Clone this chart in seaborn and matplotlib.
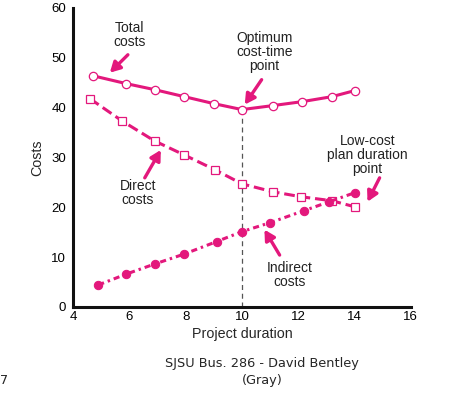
import matplotlib
matplotlib.use("Agg")
import matplotlib.pyplot as plt
import seaborn as sns
import pandas as pd

# values
total_x = [4.7, 5.9, 6.9, 7.95, 9.0, 10.0, 11.1, 12.15, 13.2, 14.0]
total_y = [46.4, 44.8, 43.6, 42.2, 40.8, 39.6, 40.4, 41.2, 42.2, 43.4]

direct_x = [4.6, 5.75, 6.9, 7.95, 9.05, 10.0, 11.1, 12.1, 13.2, 14.0]
direct_y = [41.8, 37.3, 33.3, 30.5, 27.5, 24.7, 23.1, 22.1, 21.3, 20.1]

indirect_x = [4.9, 5.9, 6.9, 7.95, 9.1, 10.0, 11.0, 12.2, 13.1, 14.0]
indirect_y = [4.4, 6.6, 8.6, 10.6, 13.1, 15.1, 16.9, 19.3, 21.1, 22.9]

x_ticks = [4, 6, 8, 10, 12, 14, 16]
y_ticks = [0, 10, 20, 30, 40, 50, 60]

MAGENTA = "#e3187c"

sns.set_style("white")
plt.rcParams["font.family"] = ["Liberation Sans", "DejaVu Sans"]

fig = plt.figure(figsize=(4.56, 3.97), dpi=100)
ax = fig.add_axes([0.160, 0.227, 0.741, 0.753])

df_total = pd.DataFrame({"duration": total_x, "cost": total_y})
df_direct = pd.DataFrame({"duration": direct_x, "cost": direct_y})
df_indirect = pd.DataFrame({"duration": indirect_x, "cost": indirect_y})

# optimum line
ax.vlines(10, 0, 39.6, colors="#555555", linestyles=(0, (4, 3)), linewidth=0.9, zorder=1)

sns.lineplot(data=df_total, x="duration", y="cost", ax=ax, color=MAGENTA,
             linewidth=2.2, marker="o", markersize=6, markerfacecolor="white",
             markeredgecolor=MAGENTA, markeredgewidth=0.9, zorder=3)
sns.lineplot(data=df_direct, x="duration", y="cost", ax=ax, color=MAGENTA,
             linewidth=2.2, linestyle=(0, (3.5, 1.6)), marker="s", markersize=6,
             markerfacecolor="white", markeredgecolor=MAGENTA, markeredgewidth=0.9, zorder=3)
sns.lineplot(data=df_indirect, x="duration", y="cost", ax=ax, color=MAGENTA,
             linewidth=2.2, linestyle=(0, (2, 1.3, 0.8, 1.3)), marker="o", markersize=6,
             markerfacecolor=MAGENTA, markeredgecolor=MAGENTA, zorder=3)

ax.set_xlim(4, 16)
ax.set_ylim(0, 60)
ax.set_xticks(x_ticks)
ax.set_yticks(y_ticks)
ax.tick_params(direction="in", length=4, width=0.8, labelsize=9.5, colors="black", pad=5)
ax.tick_params(axis="x", pad=3)
for s in ["top", "right"]:
    ax.spines[s].set_visible(False)
for s in ["left", "bottom"]:
    ax.spines[s].set_linewidth(2.2)
    ax.spines[s].set_color("#111111")

ax.set_xlabel("Project duration", fontsize=10.3, labelpad=3)
ax.set_ylabel("Costs", fontsize=10.3, labelpad=5)

arrow = dict(arrowstyle="-|>,head_length=0.6,head_width=0.33", color=MAGENTA, lw=2.4,
             shrinkA=0, shrinkB=0)
txt = dict(fontsize=10, ha="center", va="center", color="#222222", linespacing=1.0)

ax.annotate("", xy=(5.31, 47.0), xytext=(5.95, 50.6), arrowprops=arrow)
ax.text(6.02, 54.6, "Total\ncosts", **txt)
ax.annotate("", xy=(10.1, 40.6), xytext=(10.7, 45.6), arrowprops=arrow)
ax.text(10.8, 51.2, "Optimum\ncost-time\npoint", **txt)
ax.annotate("", xy=(7.12, 31.5), xytext=(6.55, 25.9), arrowprops=arrow)
ax.text(6.3, 22.9, "Direct\ncosts", **txt)
ax.annotate("", xy=(14.46, 21.1), xytext=(14.89, 25.9), arrowprops=arrow)
ax.text(14.46, 30.5, "Low-cost\nplan duration\npoint", **txt)
ax.annotate("", xy=(10.8, 15.5), xytext=(11.34, 10.4), arrowprops=arrow)
ax.text(11.7, 6.4, "Indirect\ncosts", **txt)

fig.text(0.575, 0.085, "SJSU Bus. 286 - David Bentley", fontsize=9.3, ha="center",
         va="center", family=["DejaVu Sans"])
fig.text(0.575, 0.042, "(Gray)", fontsize=9.3, ha="center", va="center", family=["DejaVu Sans"])
fig.text(0.0, 0.042, "7", fontsize=9.3, ha="left", va="center", family=["DejaVu Sans"])

fig.savefig("out.png", dpi=100)
